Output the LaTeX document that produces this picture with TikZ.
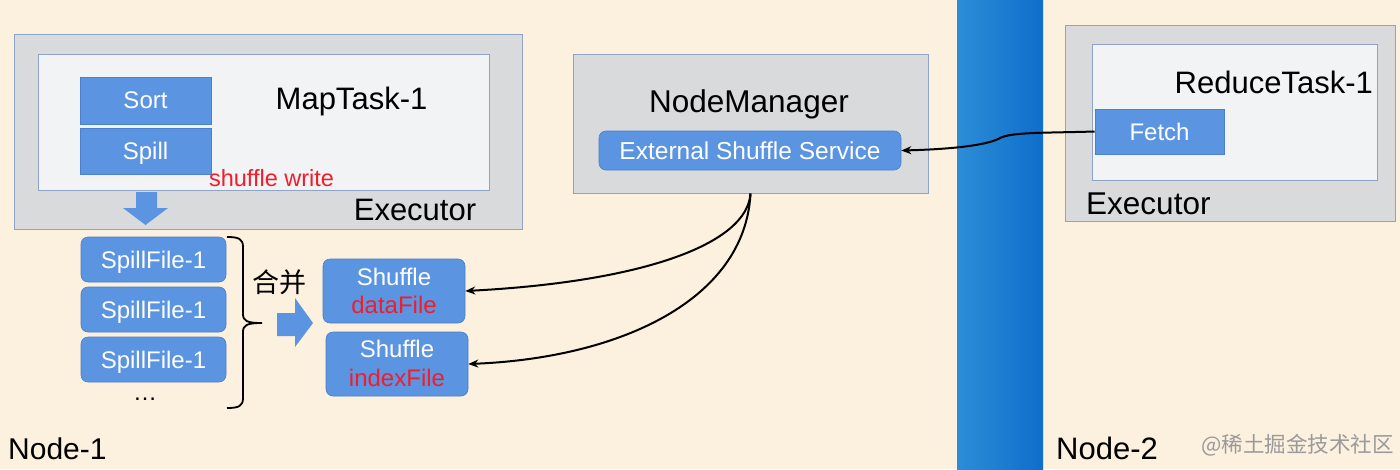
\documentclass[tikz,border=0pt]{standalone}
\usepackage{fontspec}
\setmainfont{Liberation Sans}
\newfontfamily\cjk{Noto Sans CJK SC}
\usetikzlibrary{arrows.meta}
\definecolor{bgc}{HTML}{FCF0DE}
\definecolor{grayfill}{HTML}{D9DADB}
\definecolor{grayedge}{HTML}{8FA3C6}
\definecolor{innerfill}{HTML}{F2F3F4}
\definecolor{boxblue}{HTML}{5B94E0}
\definecolor{boxedge}{HTML}{4A80CC}
\definecolor{bandL}{HTML}{2C8DD7}
\definecolor{bandR}{HTML}{0E6ECB}
\definecolor{redtxt}{HTML}{F01E2C}
\definecolor{wmark}{HTML}{9A9A9A}
\tikzset{
  outerbox/.style={draw=grayedge,fill=grayfill,line width=1pt},
  innerbox/.style={draw=grayedge,fill=innerfill,line width=1pt},
  sqbox/.style={draw=boxedge,fill=boxblue,line width=0.6pt,text=white,text depth=0pt,font=\fontsize{24}{26}\selectfont},
  rbox/.style={draw=boxedge,fill=boxblue,line width=0.6pt,rounded corners=7pt,text=white,font=\fontsize{24}{27}\selectfont},
  lbl/.style={inner sep=0pt,text=black},
  conn/.style={line width=2pt,-{Stealth[length=10pt,width=8pt]}},
}
\begin{document}
\begin{tikzpicture}[x=1pt,y=-1pt]
\useasboundingbox (0,0) rectangle (1400,469);
\fill[bgc] (0,0) rectangle (1400,469);
% separator band
\shade[left color=bandL,right color=bandR] (957,0) rectangle (1043,469);

% Executor 1
\draw[outerbox] (14,34) rectangle (522,229);
\draw[innerbox] (38,54) rectangle (489,190);
\node[sqbox,minimum width=131pt,minimum height=47pt] (sort) at (145.5,100.5) {Sort};
\node[sqbox,minimum width=131pt,minimum height=46pt] (spill) at (145.5,151) {Spill};
\node[lbl,anchor=base,font=\fontsize{31}{33}\selectfont] (maptask) at (351.5,109) {MapTask-1};
\node[lbl,anchor=base,text=redtxt,font=\fontsize{23.5}{25}\selectfont] (sw) at (271.5,186) {shuffle write};
\node[lbl,anchor=base,font=\fontsize{31}{33}\selectfont] (exec1) at (415,220) {Executor};
% down block arrow
\fill[boxblue] (136,192) -- (157,192) -- (157,208) -- (168,208) -- (145.5,225) -- (123,208) -- (136,208) -- cycle;

% Spill files
\node[rbox,minimum width=145pt,minimum height=45pt,text depth=0pt] (sf1) at (153.5,259.5) {SpillFile-1};
\node[rbox,minimum width=145pt,minimum height=45pt,text depth=0pt] (sf2) at (153.5,309.5) {SpillFile-1};
\node[rbox,minimum width=145pt,minimum height=45pt,text depth=0pt] (sf3) at (153.5,359.5) {SpillFile-1};
\node[lbl,anchor=base,font=\fontsize{24}{26}\selectfont] (dots) at (145,400) {\ldots};
% brace
\draw[line width=1.8pt,line join=round] (227,237) .. controls (239,237) and (243,239) .. (243,247) -- (243,314) .. controls (243,321) and (247,323) .. (262,323)
  (262,323) .. controls (247,323) and (243,325) .. (243,332) -- (243,398) .. controls (243,406) and (239,408) .. (227,408);
\node[lbl,font=\cjk\fontsize{27}{29}\selectfont] (merge) at (279.5,282) {合并};
% right block arrow
\fill[boxblue] (277,313) -- (295,313) -- (295,298) -- (313,323) -- (295,347) -- (295,336) -- (277,336) -- cycle;

% shuffle files
\node[rbox,minimum width=142pt,minimum height=64pt] (data) at (394,291) {};
\node[lbl,anchor=base,text=white,font=\fontsize{24}{26}\selectfont] (dataA) at (394,285) {Shuffle};
\node[lbl,anchor=base,text=redtxt,font=\fontsize{24}{26}\selectfont] (dataB) at (394,313) {dataFile};
\node[rbox,minimum width=142pt,minimum height=64pt] (index) at (397,364) {};
\node[lbl,anchor=base,text=white,font=\fontsize{24}{26}\selectfont] (indexA) at (397,357) {Shuffle};
\node[lbl,anchor=base,text=redtxt,font=\fontsize{24}{26}\selectfont] (indexB) at (397,386) {indexFile};

% NodeManager
\node[outerbox,minimum width=355pt,minimum height=139pt] (nm) at (750.5,123.5) {};
\node[lbl,anchor=base,font=\fontsize{31.5}{33}\selectfont] (nmt) at (749,112) {NodeManager};
\node[rbox,minimum width=302pt,minimum height=39pt,text depth=0pt,font=\fontsize{24.5}{26}\selectfont] (ess) at (750,150.5) {External Shuffle Service};

% Executor 2
\draw[outerbox] (1065,25) rectangle (1395,221);
\draw[innerbox] (1092,44) rectangle (1377,180);
\node[lbl,anchor=base east,font=\fontsize{31}{33}\selectfont] (rt) at (1373,93) {ReduceTask-1};
\node[sqbox,minimum width=129pt,minimum height=45pt] (fetch) at (1159.5,131.5) {Fetch};
\node[lbl,anchor=base west,font=\fontsize{31.5}{33}\selectfont] (exec2) at (1086,214) {Executor};

% connectors
\draw[conn] (fetch.west) .. controls (1045,133) and (1012,132) .. (1000,138) .. controls (990,144) and (960,149) .. (ess.east);
\draw[conn] (nm.south) .. controls (747,245) and (640,282) .. (data.east);
\draw[conn] (nm.south) .. controls (745,300) and (620,358) .. (index.east);

% node labels
\node[lbl,anchor=base west,font=\fontsize{30}{32}\selectfont] (n1) at (8,459) {Node-1};
\node[lbl,anchor=base west,font=\fontsize{31}{33}\selectfont] (n2) at (1056,459) {Node-2};
\node[lbl,anchor=east,text=wmark,font=\cjk\fontsize{21.5}{24}\selectfont] (wm) at (1394,445) {@稀土掘金技术社区};
\end{tikzpicture}
\end{document}
